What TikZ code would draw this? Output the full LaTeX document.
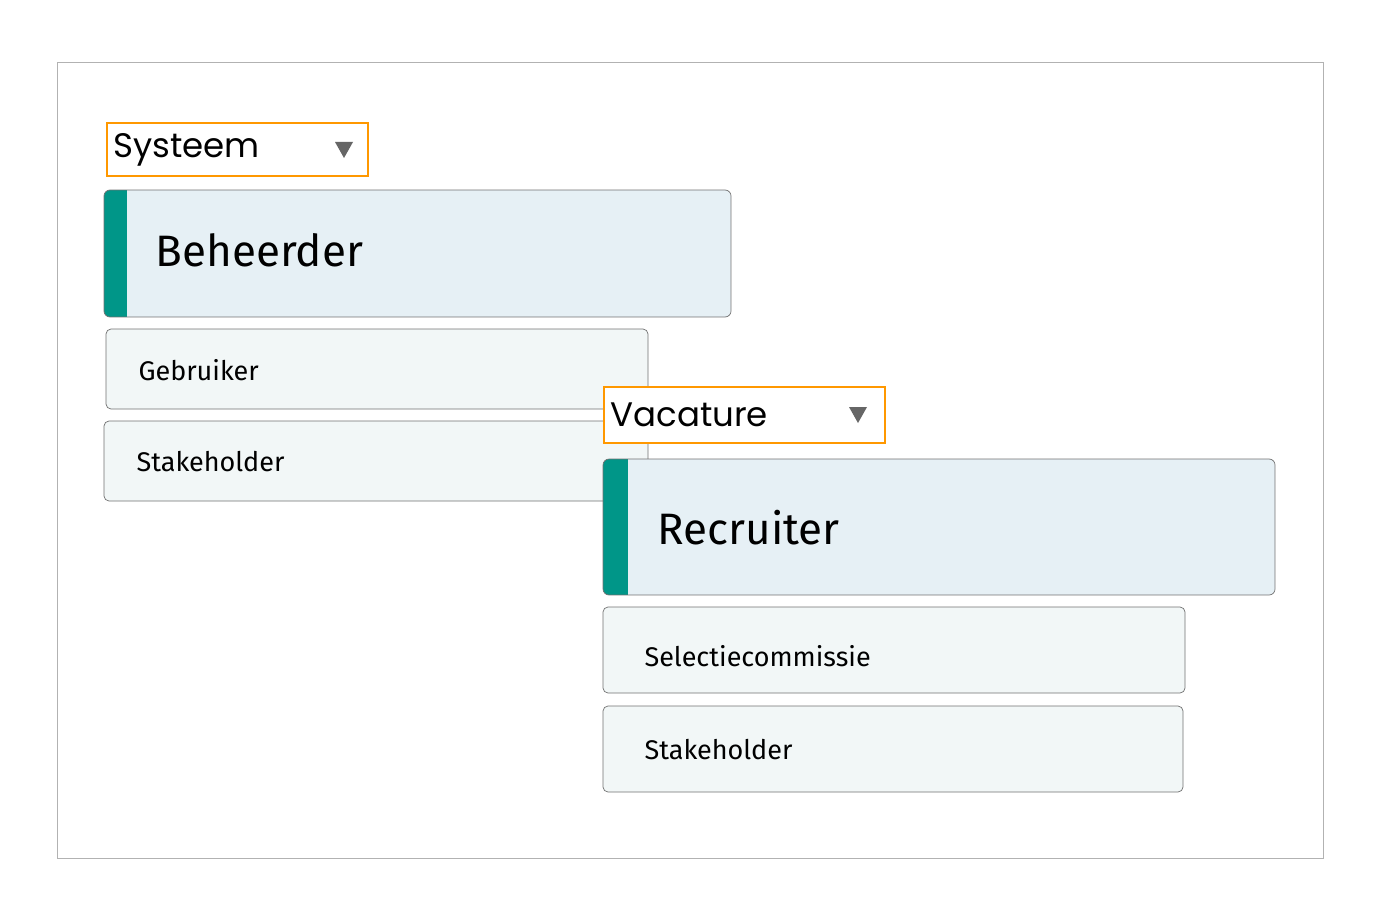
\documentclass[tikz,border=0pt]{standalone}
\usepackage{fontspec}
\setmainfont{Fira Sans}
\newfontfamily\popp{Poppins}
\definecolor{teal}{HTML}{009688}
\definecolor{hdr}{HTML}{E6F0F5}
\definecolor{sub}{HTML}{F2F7F7}
\definecolor{org}{HTML}{FF9800}
\definecolor{edge}{HTML}{707070}
\tikzset{x=1pt,y=-1pt,
 drop/.style={draw=org,line width=2pt,fill=white},
 subbox/.style={draw=edge,line width=0.7pt,fill=sub,rounded corners=5pt},
 hdrbox/.style={draw=edge,line width=0.7pt,fill=hdr,rounded corners=6pt},
 tri/.style={fill=black!60,draw=none}}
\begin{document}
\begin{tikzpicture}
\useasboundingbox (0,0) rectangle (1380,920);
\draw[black!30,line width=0.8pt] (57,62) rectangle (1323,858);
% Systeem group
\draw[drop] (107,123) rectangle (368,176);
\node[anchor=west,font=\popp\fontsize{34}{34}\selectfont] (sys) at (110,150) {Systeem};
\fill[tri] (335,142) -- (353,142) -- (344,158) -- cycle;
\begin{scope}
\clip[rounded corners=6pt] (104,190) rectangle (731,317);
\fill[hdr] (104,190) rectangle (731,317);
\fill[teal] (104,190) rectangle (127,317);
\end{scope}
\draw[draw=edge,line width=0.7pt,rounded corners=6pt] (104,190) rectangle (731,317);
\node[anchor=west,font=\fontsize{44}{44}\selectfont] (beh) at (152,250) {Beheerder};
\draw[subbox] (106,329) rectangle (648,409);
\node[anchor=west,font=\fontsize{27}{27}\selectfont] (geb) at (135,370) {Gebruiker};
\draw[subbox] (104,421) rectangle (648,501);
\node[anchor=west,font=\fontsize{27}{27}\selectfont] (st1) at (133,462) {Stakeholder};
% Vacature group
\draw[drop] (604,387) rectangle (885,443);
\node[anchor=west,font=\popp\fontsize{34}{34}\selectfont] (vac) at (607,415) {Vacature};
\fill[tri] (849,407) -- (867,407) -- (858,423) -- cycle;
\begin{scope}
\clip[rounded corners=6pt] (603,459) rectangle (1275,595);
\fill[hdr] (603,459) rectangle (1275,595);
\fill[teal] (603,459) rectangle (628,595);
\end{scope}
\draw[draw=edge,line width=0.7pt,rounded corners=6pt] (603,459) rectangle (1275,595);
\node[anchor=west,font=\fontsize{44}{44}\selectfont] (rec) at (654,528) {Recruiter};
\draw[subbox] (603,607) rectangle (1185,693);
\node[anchor=west,font=\fontsize{27}{27}\selectfont] (sel) at (641,656) {Selectiecommissie};
\draw[subbox] (603,706) rectangle (1183,792);
\node[anchor=west,font=\fontsize{27}{27}\selectfont] (st2) at (641,750) {Stakeholder};
\end{tikzpicture}
\end{document}
